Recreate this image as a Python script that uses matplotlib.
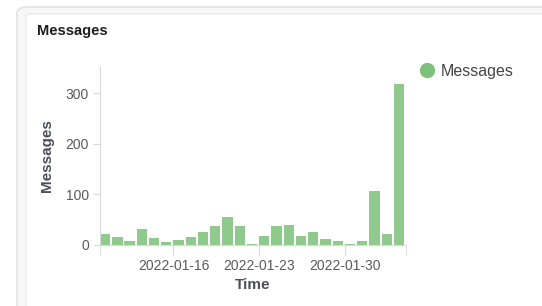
import matplotlib
matplotlib.use("Agg")
import matplotlib.pyplot as plt
import matplotlib.dates as mdates
from matplotlib.patches import FancyBboxPatch
from matplotlib.lines import Line2D
import numpy as np
import datetime as dt

plt.rcParams['font.family'] = ['Liberation Sans', 'DejaVu Sans']

# Data
dates = [dt.date(2022, 1, 10) + dt.timedelta(days=i) for i in range(25)]
messages = [21, 15, 7, 31, 13, 5, 9, 15, 26, 37, 55, 37, 1, 17, 37, 39, 17, 25, 11, 7, 1, 7, 107, 21, 319]
tick_dates = ["2022-01-16", "2022-01-23", "2022-01-30"]
series_name = "Messages"
title = "Messages"

W, H = 542, 306
fig = plt.figure(figsize=(W / 100, H / 100), dpi=100)
fig.patch.set_facecolor("white")

def fx(px):
    return px / W

def fy(py):
    return 1 - py / H

# Card borders
outer = FancyBboxPatch((fx(17), fy(320)), fx(600), (320 - 7) / H,
                       boxstyle="round,pad=0,rounding_size=0.02",
                       transform=fig.transFigure, facecolor="#f7f7f8",
                       edgecolor="#e2e2e4", linewidth=1.2, zorder=-2)
inner = FancyBboxPatch((fx(26), fy(320)), fx(600), (320 - 14) / H,
                       boxstyle="round,pad=0,rounding_size=0.01",
                       transform=fig.transFigure, facecolor="white",
                       edgecolor="#ebebed", linewidth=1.0, zorder=-1)
fig.patches.extend([outer, inner])

fig.text(fx(37), fy(31), title, fontsize=10.5, fontweight="bold",
         color="#1f1f1f", va="center", ha="left")

ax = fig.add_axes([fx(100), fy(245), fx(306), (245 - 67) / H])
ax.set_zorder(2)
ax.set_facecolor("none")

bar_color = "#8fca8c"
date_nums = mdates.date2num(dates)
ax.bar(date_nums, messages, width=0.84, align="edge", color=bar_color,
       edgecolor="none", zorder=2)

ax.set_xlim(date_nums[0], date_nums[-1] + 1)
ax.set_ylim(0, 352)

spine_col = "#d9d9d9"
for s in ["top", "right"]:
    ax.spines[s].set_visible(False)
ax.spines["left"].set_color(spine_col)
ax.spines["bottom"].set_color(spine_col)

ax.set_yticks([0, 100, 200, 300])
ax.tick_params(axis="y", length=5, color=spine_col, labelsize=10,
               labelcolor="#5a5a5a", pad=3)

major = [mdates.date2num(dt.date.fromisoformat(d)) for d in tick_dates]
ax.set_xticks(major)
ax.set_xticklabels(tick_dates)
ax.set_xticks([date_nums[0], date_nums[-1] + 1], minor=True)
ax.tick_params(axis="x", which="both", length=7, color=spine_col,
               labelsize=10, labelcolor="#5a5a5a", pad=3)

ax.set_xlabel("Time", fontsize=11, fontweight="bold", color="#4a4f5a", labelpad=4)
ax.set_ylabel("Messages", fontsize=11, fontweight="bold", color="#4a4f5a", labelpad=8)

handle = Line2D([], [], marker="o", linestyle="none", markersize=11,
                markerfacecolor="#7cc07a", markeredgecolor="none")
fig.legend([handle], [series_name], loc="center left",
           bbox_to_anchor=(fx(419), fy(71)), frameon=False,
           fontsize=11.5, labelcolor="#444444", handletextpad=0.35,
           borderpad=0, borderaxespad=0, handlelength=1.0)

fig.savefig("out.png", dpi=100, facecolor="white")
